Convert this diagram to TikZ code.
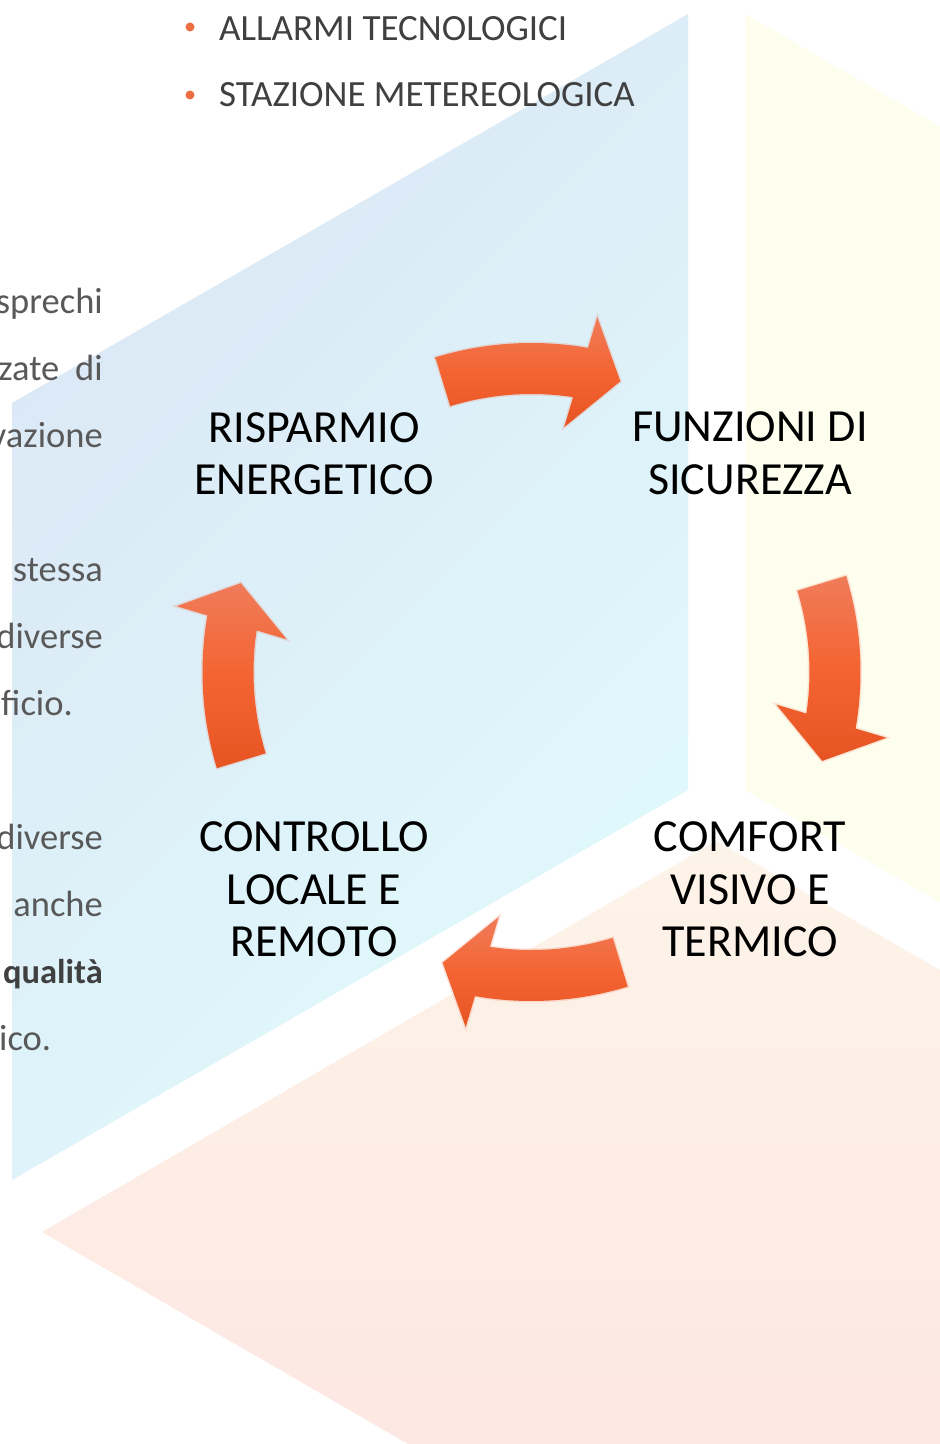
\documentclass[tikz,border=0pt]{standalone}
\usepackage{fontspec}
\setmainfont{Carlito}
\usepackage{tikz}
\usetikzlibrary{positioning}

\definecolor{bluetop}{RGB}{219,231,245}
\definecolor{bluebot}{RGB}{224,250,252}
\definecolor{paleyellow}{RGB}{254,254,239}
\definecolor{peachtop}{RGB}{253,244,233}
\definecolor{peachbot}{RGB}{253,231,226}
\definecolor{arrowtop}{RGB}{240,124,90}
\definecolor{arrowmid}{RGB}{244,100,50}
\definecolor{arrowbot}{RGB}{230,84,34}
\definecolor{dotorange}{RGB}{237,110,64}
\definecolor{bodygray}{RGB}{89,89,89}
\definecolor{itemgray}{RGB}{64,64,64}

\begin{document}
\begin{tikzpicture}[x=1pt,y=1pt,
    stage/.style={align=center, inner sep=0pt, font=\fontsize{46}{52.5}\selectfont},
    itemtext/.style={anchor=base west, inner sep=0pt, text=itemgray, font=\fontsize{37}{43}\selectfont},
    itemdot/.style={circle, fill=dotorange, inner sep=0pt, minimum size=9},
    sidetext/.style={inner sep=0pt, text=bodygray, font=\fontsize{36.5}{42}\selectfont},
    bigarrow/.style={top color=arrowtop, bottom color=arrowbot, middle color=arrowmid,
      preaction={draw=arrowtop, line width=3, opacity=0.2}}]
    \useasboundingbox (0,0) rectangle (940,1444);
    \fill[white] (0,0) rectangle (940,1444);

    % background panels
    \shade[top color=bluetop, bottom color=bluebot, shading angle=45]
      (12,1041) -- (688,1430) -- (688,654) -- (12,264) -- cycle;
    \fill[paleyellow] (745,1430) -- (940,1317.5) -- (940,541.5) -- (745,654) -- cycle;
    \shade[top color=peachtop, bottom color=peachbot]
      (42,212) -- (716.5,603) -- (940,474) -- (940,0) -- (408,0) -- cycle;

    % bullet list
    \node[itemdot] (dota) at (190,1417) {};
    \node[itemtext] (allarmi) at (219,1403) {ALLARMI TECNOLOGICI};
    \node[itemdot] (dotb) at (190,1349) {};
    \node[itemtext] (stazione) at (219,1337) {STAZIONE METEREOLOGICA};

    % text cut at the left edge
    \node[sidetext, anchor=base east] (sprechi) at (103,1130) {sprechi};
    \node[sidetext, anchor=base east] (zate) at (103,1063) {zate\hspace{16pt}di};
    \node[sidetext, anchor=base east] (vazione) at (103,996) {vazione};
    \node[sidetext, anchor=base east] (stessa) at (103,862) {stessa};
    \node[sidetext, anchor=base east] (diversea) at (103,795) {diverse};
    \node[sidetext, anchor=base west] (ficio) at (1,728) {ficio.};
    \node[sidetext, anchor=base east] (diverseb) at (103,594) {diverse};
    \node[sidetext, anchor=base east] (anche) at (103,527) {anche};
    \node[sidetext, anchor=base east, text=itemgray, font=\bfseries\fontsize{34.5}{42}\selectfont] (qualita) at (103,460) {qualità};
    \node[sidetext, anchor=base west] (ico) at (-1,393) {ico.};

    % cycle
    \node[stage] (risparmio) at (314,990.5) {RISPARMIO\\ENERGETICO};
    \node[stage] (funzioni) at (750,990.5) {FUNZIONI DI\\SICUREZZA};
    \node[stage] (comfort) at (750,554.5) {COMFORT\\VISIVO E\\TERMICO};
    \node[stage] (controllo) at (314,554.5) {CONTROLLO\\LOCALE E\\REMOTO};

    \coordinate (hub) at (531.5,772);
    \foreach \r in {0,90,180,270}
      \shade[bigarrow, shift={(hub)}] (107-\r:329)
        arc[start angle=107-\r, end angle=80.1-\r, radius=329]
        -- (79.5-\r:361) -- (73-\r:304) -- (82.4-\r:247) -- (81.4-\r:278)
        arc[start angle=81.4-\r, end angle=107-\r, radius=278] -- cycle;
\end{tikzpicture}
\end{document}
